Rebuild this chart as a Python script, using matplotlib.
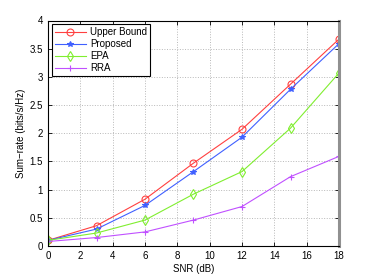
import matplotlib
matplotlib.use("Agg")
import matplotlib.pyplot as plt

snr = [0, 3, 6, 9, 12, 15, 18]
upper = [0.10, 0.36, 0.83, 1.47, 2.07, 2.87, 3.67]
proposed = [0.10, 0.30, 0.72, 1.32, 1.93, 2.78, 3.59]
epa = [0.10, 0.23, 0.46, 0.92, 1.32, 2.09, 3.07]
rra = [0.08, 0.15, 0.25, 0.46, 0.70, 1.23, 1.59]
labels = ["Upper Bound", "Proposed", "EPA", "RRA"]

plt.rcParams['font.family'] = ['Liberation Sans', 'DejaVu Sans']
fig = plt.figure(figsize=(3.74, 2.77), dpi=100)
ax = fig.add_axes([48/374, 31/277, 291/374, 225.5/277])

ax.plot(snr, upper, color='#ff4040', marker='o', ms=5, mfc='none', lw=0.8, mew=0.8, label=labels[0])
ax.plot(snr, proposed, color='#4060ff', marker='*', ms=4, lw=0.8, mew=0.8, label=labels[1])
ax.plot(snr, epa, color='#80ee30', marker='d', ms=5, mfc='none', lw=0.8, mew=0.8, label=labels[2])
ax.plot(snr, rra, color='#c050ff', marker='+', ms=5, lw=0.8, mew=0.8, label=labels[3])

ax.set_xlim(0, 18)
ax.set_ylim(0, 4)
ax.set_xticks(range(0, 19, 2))
ax.set_yticks([0, 0.5, 1, 1.5, 2, 2.5, 3, 3.5, 4])
ax.set_yticklabels(['0', '0.5', '1', '1.5', '2', '2.5', '3', '3.5', '4'])
ax.grid(True, linestyle=':', color='#b8b8b8', lw=0.7)
ax.tick_params(direction='in', labelsize=7, length=3, width=0.6)
ax.tick_params(top=True, right=True)
for s in ax.spines.values():
    s.set_linewidth(0.8)
ax.spines['right'].set_linewidth(2.2)
ax.spines['right'].set_color('#909090')
ax.set_xlabel('SNR (dB)', fontsize=7, labelpad=2)
ax.set_ylabel('Sum\u2212rate (bits/s/Hz)', fontsize=7, labelpad=3)
leg = ax.legend(loc='upper left', fontsize=7, fancybox=False, edgecolor='black',
                framealpha=1, borderaxespad=0.4, handlelength=3.2, labelspacing=0.2,
                borderpad=0.3, handletextpad=0.4)
leg.get_frame().set_linewidth(0.8)
fig.savefig('out.png', dpi=100)
